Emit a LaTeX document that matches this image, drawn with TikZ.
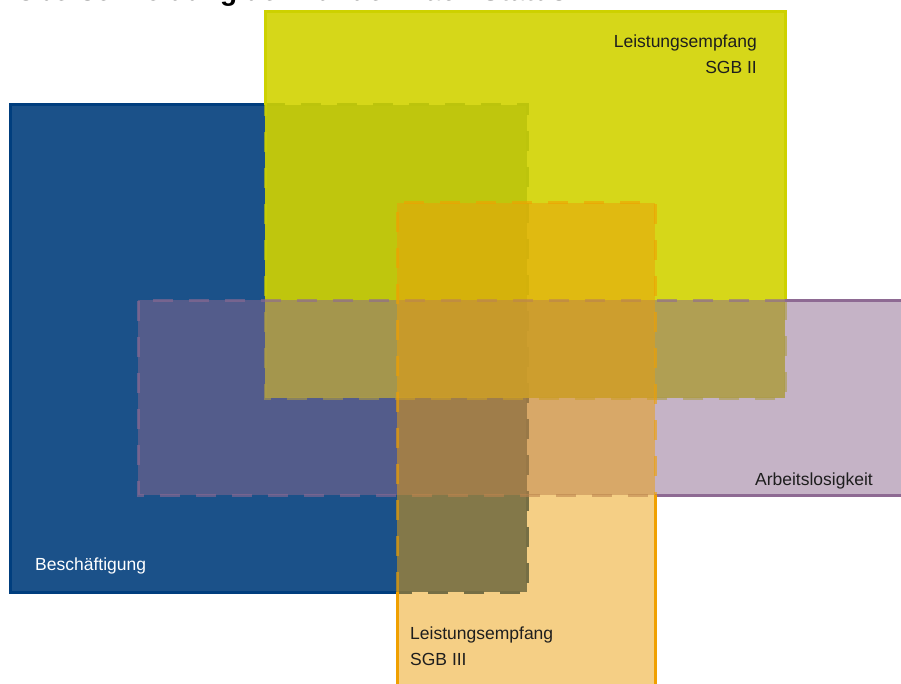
\documentclass[tikz,border=0pt]{standalone}
\usepackage{fontspec}
\setmainfont{Liberation Sans}
\definecolor{bfill}{HTML}{1B5189}
\definecolor{bline}{HTML}{003E7E}
\definecolor{yfill}{HTML}{D1D300}
\definecolor{yline}{HTML}{CDD100}
\definecolor{pfill}{HTML}{8B678D}
\definecolor{pline}{HTML}{8E6A93}
\definecolor{ofill}{HTML}{EB9F0B}
\definecolor{oline}{HTML}{F0A000}
\definecolor{txt}{HTML}{1E1E1E}
\tikzset{
  edgeline/.style={line width=3pt},
  hidline/.style={line width=3pt, dash pattern=on 20pt off 16pt, draw opacity=0.6},
  lbl/.style={font=\fontsize{17.5}{21}\selectfont, text=txt, inner sep=0pt},
}
\begin{document}
\begin{tikzpicture}[x=1pt,y=-1pt]
\useasboundingbox (0,0) rectangle (901,684);
% title (cut off by the top edge, as in the reference)
\node[anchor=base west, inner sep=0pt, font=\bfseries\fontsize{28}{32}\selectfont] (title) at (16,0.5) {Überschneidung der Kunden nach Status};
% Beschaeftigung
\fill[bfill] (10,105) rectangle (527,592);
\draw[bline,edgeline] (265,105) -- (10,105) -- (10,592) -- (397,592);
\draw[bline,hidline,draw opacity=1] (265,105) -- (527,105) -- (527,592) -- (397,592);
% Leistungsempfang SGB II
\fill[yfill, fill opacity=0.9] (265,12) rectangle (785,398);
\draw[yline,edgeline] (265,105) -- (265,12) -- (785,12) -- (785,300);
\draw[yline,hidline] (785,300) -- (785,398) -- (265,398) -- (265,105);
% Arbeitslosigkeit
\fill[pfill, fill opacity=0.5] (138,300) rectangle (912,495);
\draw[pline,edgeline] (785,300) -- (912,300);
\draw[pline,edgeline] (655,495) -- (912,495);
\draw[pline,hidline] (785,300) -- (138,300) -- (138,495) -- (655,495);
% Leistungsempfang SGB III
\fill[ofill, fill opacity=0.5] (397,203) rectangle (655,700);
\draw[oline,edgeline] (397,700) -- (397,592);
\draw[oline,edgeline] (655,700) -- (655,495);
\draw[oline,hidline] (397,592) -- (397,203) -- (655,203) -- (655,495);
% labels
\node[lbl, anchor=base east] (sgbIIa) at (757,48) {Leistungsempfang};
\node[lbl, anchor=base east] (sgbIIb) at (757,74) {SGB II};
\node[lbl, anchor=base west, text=white] (besch) at (35,570) {Beschäftigung};
\node[lbl, anchor=base east] (arbl) at (873,485) {Arbeitslosigkeit};
\node[lbl, anchor=base west] (sgbIIIa) at (410,639) {Leistungsempfang};
\node[lbl, anchor=base west] (sgbIIIb) at (410,665) {SGB III};
\end{tikzpicture}
\end{document}
